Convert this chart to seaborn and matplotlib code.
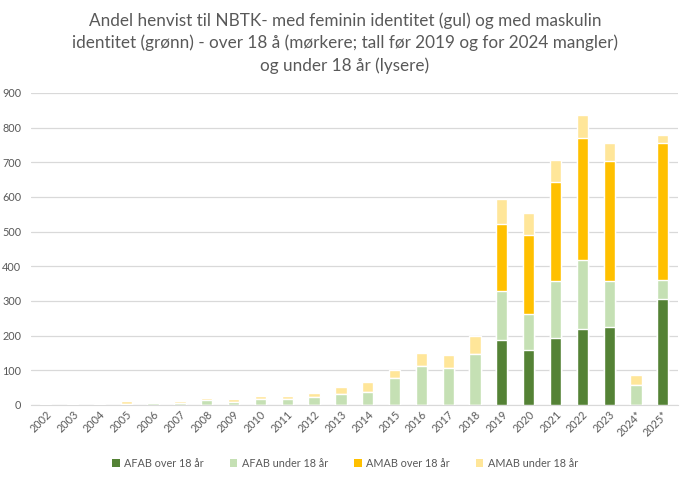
import seaborn as sns
import matplotlib.pyplot as plt
import numpy as np
import pandas as pd
from matplotlib.patches import Patch

# Data
years = ['2002', '2003', '2004', '2005', '2006', '2007', '2008', '2009', '2010',
         '2011', '2012', '2013', '2014', '2015', '2016', '2017', '2018', '2019',
         '2020', '2021', '2022', '2023', '2024*', '2025*']
afab_over = [0, 0, 0, 0, 0, 0, 0, 0, 0, 0, 0, 0, 0, 0, 0, 0, 0,
             188, 159, 194, 219, 224, 0, 305]
afab_under = [2, 1, 3, 4, 5, 6, 13, 10, 16, 17, 22, 33, 38, 77, 113, 106, 147,
              140, 103, 163, 198, 133, 58, 55]
amab_over = [0, 0, 0, 0, 0, 0, 0, 0, 0, 0, 0, 0, 0, 0, 0, 0, 0,
             193, 228, 285, 352, 348, 0, 395]
amab_under = [1, 2, 2, 8, 4, 5, 8, 6, 11, 10, 12, 20, 29, 25, 38, 39, 51,
              72, 63, 65, 68, 51, 28, 25]

series = ['AFAB over 18 år', 'AFAB under 18 år', 'AMAB over 18 år', 'AMAB under 18 år']
colors = ['#548235', '#C5E0B4', '#FFC000', '#FFE699']

df = pd.DataFrame({'Year': years, series[0]: afab_over, series[1]: afab_under,
                   series[2]: amab_over, series[3]: amab_under})
cum = df[series].cumsum(axis=1)

sns.set_style("white")
plt.rcParams['font.family'] = ['Lato', 'DejaVu Sans']

fig = plt.figure(figsize=(6.9, 4.83), dpi=100)
ax = fig.add_axes([0.045, 0.1615, 0.937, 0.646])

# stacked bars: draw cumulative totals from the top down
for name, color in reversed(list(zip(series, colors))):
    sns.barplot(x=df['Year'], y=cum[name], color=color, width=0.42,
                ax=ax, saturation=1, zorder=3)

ax.set_ylim(0, 900)
ax.set_yticks(range(0, 901, 100))
ax.set_xlim(-0.55, len(years) - 0.45)
ax.grid(axis='y', color='#D9D9D9', linewidth=0.9, zorder=0)
ax.set_axisbelow(True)
for s in ['top', 'right', 'left']:
    ax.spines[s].set_visible(False)
ax.spines['bottom'].set_color('#D9D9D9')
ax.set_xlabel('')
ax.set_ylabel('')
ax.tick_params(axis='both', length=0, labelsize=7.8, colors='#595959', pad=7)
ax.tick_params(axis='x', pad=3)
plt.setp(ax.get_xticklabels(), rotation=45, ha='right', rotation_mode='anchor')

fig.suptitle('Andel henvist til NBTK- med feminin identitet (gul) og med maskulin\n'
             'identitet (grønn) - over 18 å (mørkere; tall før 2019 og for 2024 mangler)\n'
             'og under 18 år (lysere)',
             y=0.975, fontsize=12.3, color='#595959', linespacing=1.45)

handles = [Patch(facecolor=c, edgecolor='none') for c in colors]
fig.legend(handles, series, loc='center', bbox_to_anchor=(0.5, 0.041), ncol=4,
           frameon=False, fontsize=7.8, handlelength=0.7, handleheight=0.7,
           handletextpad=0.4, columnspacing=2.4, labelcolor='#595959')

plt.savefig('out.png', dpi=100)
